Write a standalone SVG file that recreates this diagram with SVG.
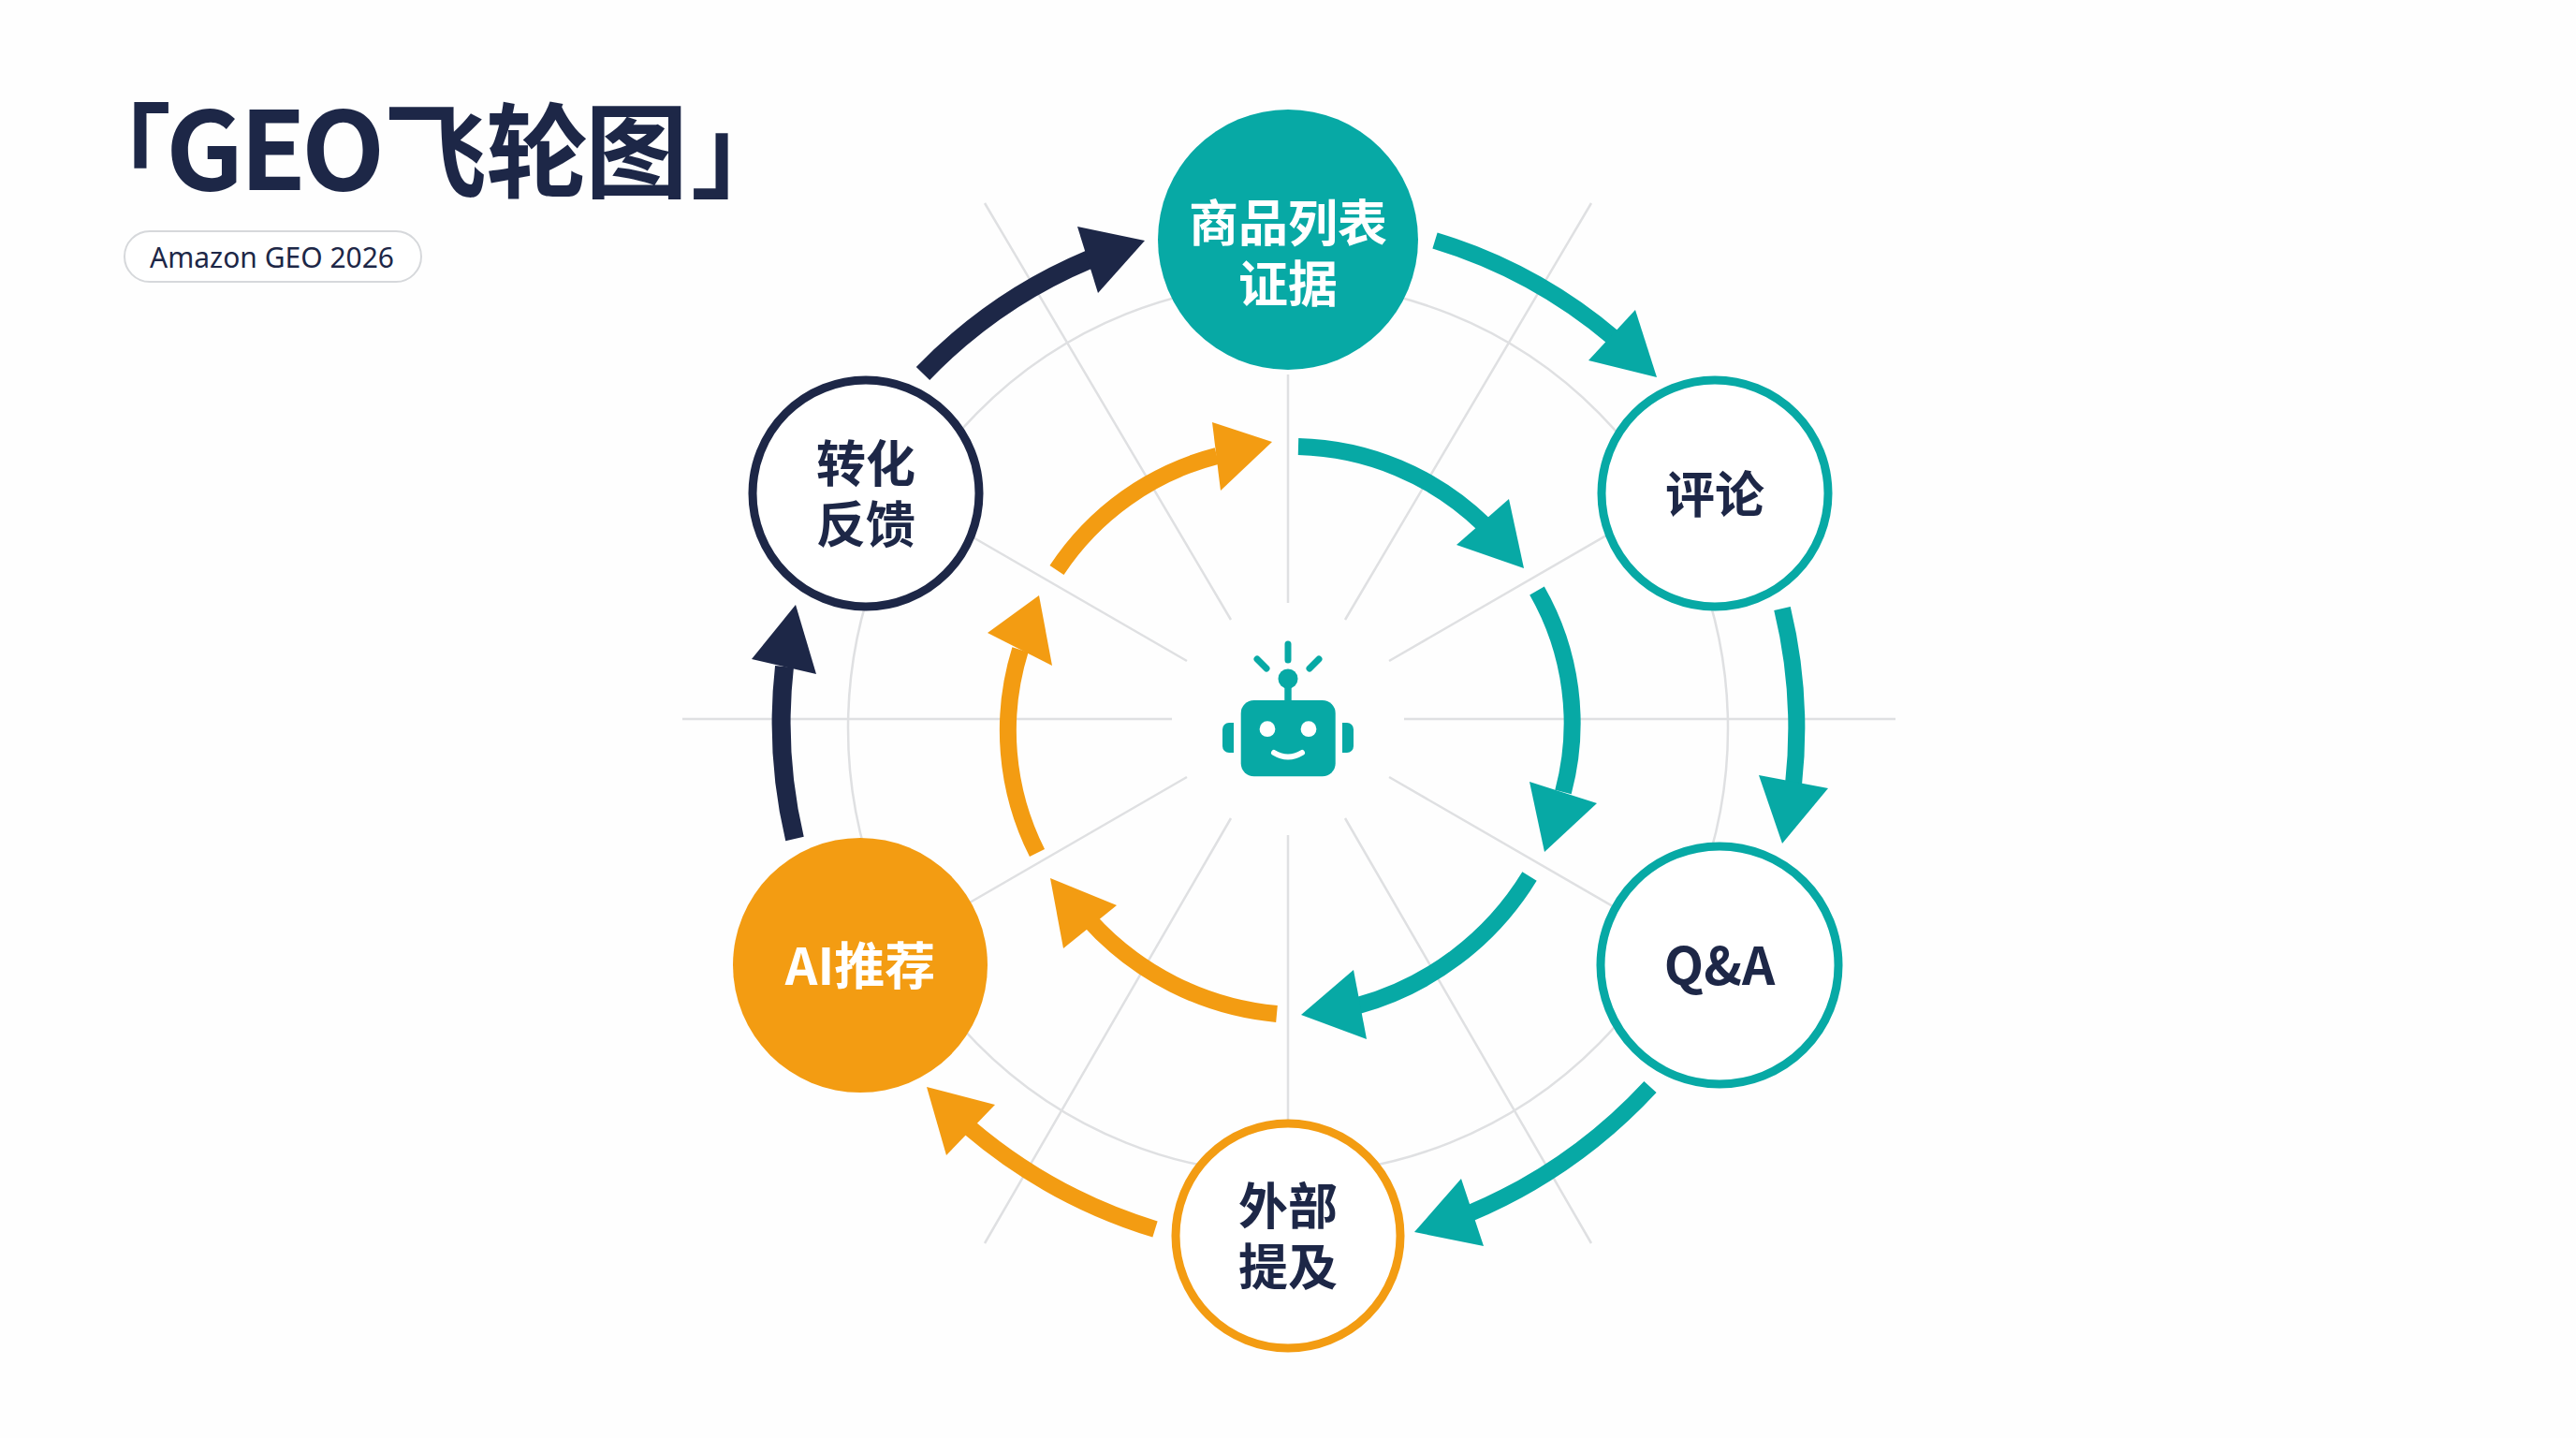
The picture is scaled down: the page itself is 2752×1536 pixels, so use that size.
<svg xmlns="http://www.w3.org/2000/svg" width="2752" height="1536" viewBox="0 0 2752 1536">
<style>
.sans{font-family:"Noto Sans CJK SC","Noto Sans",sans-serif}
.title{font-size:110px;font-weight:700;fill:#1d2747}
.latin{font-size:116px}
.pilltext{font-family:"Noto Sans","Noto Sans CJK SC",sans-serif;font-size:30px;fill:#1d2747}
.label{font-size:53px;font-weight:700;text-anchor:middle;dominant-baseline:central}
.dark{fill:#1d2747}.white{fill:#fff}
.grid{fill:none;stroke:#dfe0e2;stroke-width:2.5}
.shaft{fill:none;stroke-width:18}
.teal .shaft{stroke:#07a9a5}.teal polygon{fill:#07a9a5}
.orange .shaft{stroke:#f39c12}.orange polygon{fill:#f39c12}
.navy .shaft{stroke:#1d2747;stroke-width:20}.navy polygon{fill:#1d2747}
.robot{fill:#07a9a5}
.ray{stroke:#07a9a5;stroke-width:7;stroke-linecap:round;fill:none}
</style>
<rect width="2752" height="1536" fill="#fefefe"/>
<g id="title">
<text class="sans title" y="203"><tspan x="73">「</tspan><tspan class="latin" x="177 256 322">GEO</tspan><tspan x="410 519 625">飞轮图</tspan><tspan x="738">」</tspan></text>
<rect x="133" y="247" width="317" height="54" rx="27" fill="#fff" stroke="#d6d8db" stroke-width="2"/>
<text class="pilltext" x="160" y="286">Amazon GEO 2026</text>
</g>
<g id="grid" class="grid">
<ellipse cx="1376" cy="778" rx="470" ry="476"/>
<path d="M1252 768H729M1500 768H2025M1376 644V400M1376 892V1200"/>
<path d="M1315 662L1052 217M1437 662L1700 217M1315 874L1052 1328M1437 874L1700 1328"/>
<path d="M1268 706L960 528M1484 706L1792 528M1268 830L960 1008M1484 830L1792 1008"/>
</g>
<g id="connectors">
<g class="teal"><path class="shaft" d="M1533 257A535 535 0 0 1 1724 361"/><polygon points="1770,403 1747,331 1697,385"/></g>
<g class="teal"><path class="shaft" d="M1904 650A544 544 0 0 1 1916 838"/><polygon points="1904,901 1879,828 1953,842"/></g>
<g class="teal"><path class="shaft" d="M1763 1161A557 557 0 0 1 1570 1296"/><polygon points="1511,1316 1561,1259 1585,1331"/></g>
<g class="orange"><path class="shaft" d="M1234 1313A557 557 0 0 1 1035 1204"/><polygon points="990,1161 1063,1180 1011,1234"/></g>
<g class="navy"><path class="shaft" d="M849 896A540 540 0 0 1 838 712"/><polygon points="850,646 803,704 872,720"/></g>
<g class="navy"><path class="shaft" d="M986 399A532 532 0 0 1 1164 277"/><polygon points="1223,257 1151,242 1173,313"/></g>
<g class="teal"><path class="shaft" d="M1387 477A295 295 0 0 1 1585 560"/><polygon points="1628,607 1612,533 1556,582"/></g>
<g class="teal"><path class="shaft" d="M1642 631A285 285 0 0 1 1670 846"/><polygon points="1650,910 1634,835 1706,858"/></g>
<g class="teal"><path class="shaft" d="M1634 936A312 312 0 0 1 1451 1074"/><polygon points="1390,1084 1446,1036 1460,1110"/></g>
<g class="orange"><path class="shaft" d="M1364 1083A308 308 0 0 1 1162 981"/><polygon points="1122,938 1193,967 1136,1013"/></g>
<g class="orange"><path class="shaft" d="M1108 911A290 290 0 0 1 1090 694"/><polygon points="1110,636 1055,676 1124,711"/></g>
<g class="orange"><path class="shaft" d="M1129 609A292 292 0 0 1 1300 487"/><polygon points="1359,472 1295,451 1304,524"/></g>
</g>
<g id="robot" class="robot">
<path class="ray" d="M1376 688V705M1343 704L1353 714M1409 704L1399 714"/>
<circle cx="1376" cy="725" r="10.5"/>
<rect x="1372.3" y="730" width="7.4" height="22"/>
<rect x="1325.7" y="748" width="101" height="81.3" rx="14"/>
<path d="M1318 772H1313A7 7 0 0 0 1306 779V797A7 7 0 0 0 1313 804H1318Z"/>
<path d="M1434 772H1439A7 7 0 0 1 1446 779V797A7 7 0 0 1 1439 804H1434Z"/>
<circle cx="1354" cy="778.7" r="8.4" fill="#fff"/>
<circle cx="1398" cy="778.7" r="8.4" fill="#fff"/>
<path d="M1361 804Q1376 813 1391 804" fill="none" stroke="#fff" stroke-width="6" stroke-linecap="round"/>
</g>
<g id="node-listing"><circle cx="1376" cy="256" r="139" fill="#07a9a5"/>
<text class="sans label white"><tspan x="1376" y="235">商品列表</tspan><tspan x="1376" y="300">证据</tspan></text></g>
<g id="node-reviews"><circle cx="1832" cy="527" r="121" fill="#fff" stroke="#07a9a5" stroke-width="9"/>
<text class="sans label dark" x="1832" y="525">评论</text></g>
<g id="node-qa"><circle cx="1837" cy="1031" r="127" fill="#fff" stroke="#07a9a5" stroke-width="9"/>
<text class="sans label dark" x="1837" y="1028" style="font-size:55px">Q&amp;A</text></g>
<g id="node-mentions"><circle cx="1376" cy="1320" r="120" fill="#fff" stroke="#f39c12" stroke-width="9"/>
<text class="sans label dark"><tspan x="1376" y="1285">外部</tspan><tspan x="1376" y="1350">提及</tspan></text></g>
<g id="node-ai"><circle cx="919" cy="1031" r="136" fill="#f39c12"/>
<text class="sans label white" x="919" y="1028" style="font-size:54px">AI推荐</text></g>
<g id="node-feedback"><circle cx="925" cy="527" r="121" fill="#fff" stroke="#1d2747" stroke-width="9"/>
<text class="sans label dark"><tspan x="925" y="492">转化</tspan><tspan x="925" y="557">反馈</tspan></text></g>
</svg>
